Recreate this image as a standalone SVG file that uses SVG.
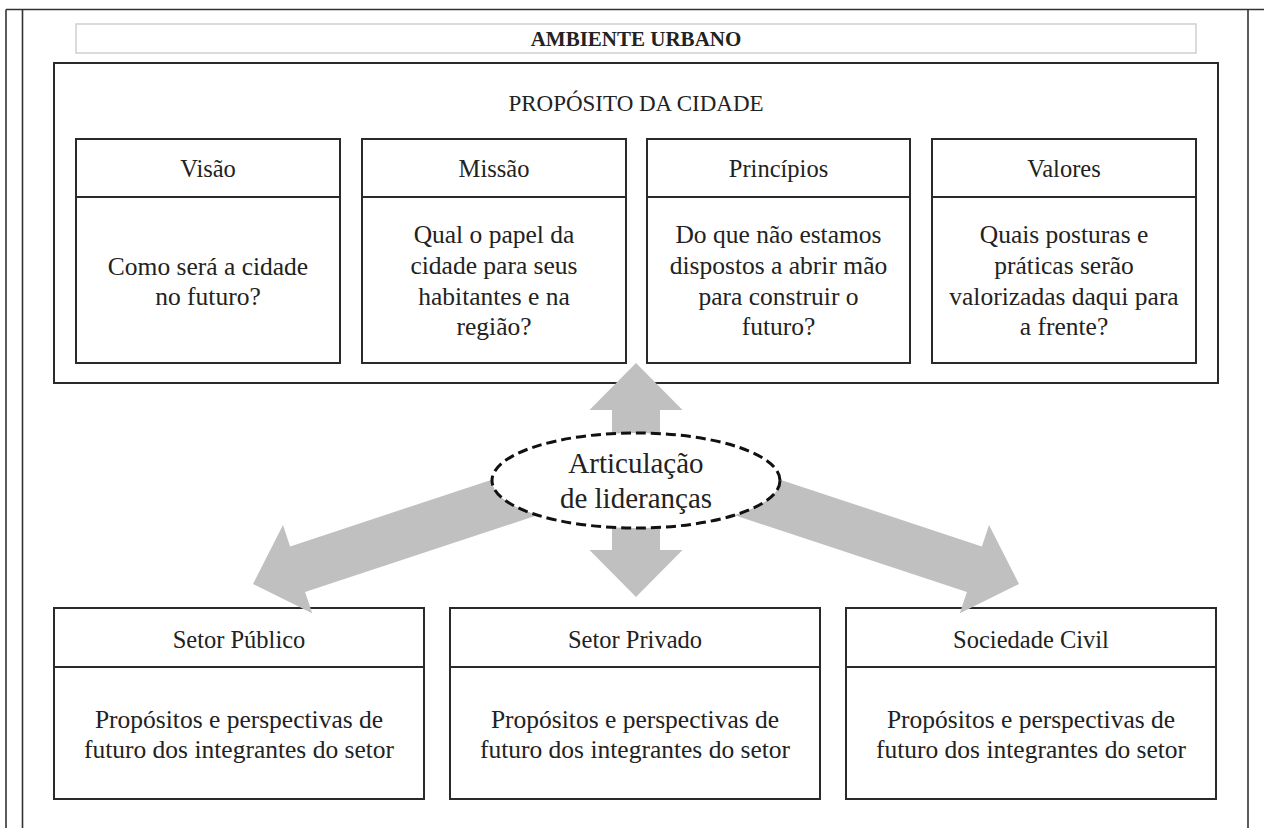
<svg xmlns="http://www.w3.org/2000/svg" width="1264" height="828" viewBox="0 0 1264 828" font-family="'Liberation Serif', 'Times New Roman', 'DejaVu Serif', serif">
<style>
.frame{fill:none;stroke:#333;stroke-width:1.6}
.box{fill:#fff;stroke:#2a2a2a;stroke-width:2}
.sep{stroke:#2a2a2a;stroke-width:2}
text{font-family:'Liberation Serif','Times New Roman','DejaVu Serif',serif;fill:#222;text-anchor:middle}
.h{font-size:24.5px}
.b{font-size:25.5px}
.arrow{fill:#c0c0c0;stroke:none}
</style>
<rect width="1264" height="828" fill="#fff"/>
<g id="frame">
<line class="frame" x1="6" y1="9.5" x2="1264" y2="9.5"/>
<line class="frame" x1="6" y1="9.5" x2="6" y2="828"/>
<line class="frame" x1="22.5" y1="9.5" x2="22.5" y2="828"/>
<line class="frame" x1="1248" y1="9.5" x2="1248" y2="828"/>
</g>
<g id="title">
<rect x="76" y="24" width="1120" height="29" fill="#fff" stroke="#cfcfcf" stroke-width="1.5"/>
<text x="636" y="45.5" font-size="21" font-weight="bold">AMBIENTE URBANO</text>
</g>
<g id="proposito">
<rect class="box" x="54" y="63" width="1164" height="320"/>
<text x="636" y="111" font-size="23">PROPÓSITO DA CIDADE</text>
</g>
<g id="visao">
<rect class="box" x="76" y="139" width="264" height="224"/>
<line class="sep" x1="76" y1="197" x2="340" y2="197"/>
<text class="h" x="208" y="177">Visão</text>
<text class="b" x="208" y="275">Como será a cidade</text>
<text class="b" x="208" y="305">no futuro?</text>
</g>
<g id="missao">
<rect class="box" x="362" y="139" width="264" height="224"/>
<line class="sep" x1="362" y1="197" x2="626" y2="197"/>
<text class="h" x="494" y="177">Missão</text>
<text class="b" x="494" y="243">Qual o papel da</text>
<text class="b" x="494" y="273.5">cidade para seus</text>
<text class="b" x="494" y="304.5">habitantes e na</text>
<text class="b" x="494" y="335">região?</text>
</g>
<g id="principios">
<rect class="box" x="647" y="139" width="263" height="224"/>
<line class="sep" x1="647" y1="197" x2="910" y2="197"/>
<text class="h" x="778.5" y="177">Princípios</text>
<text class="b" x="778.5" y="243">Do que não estamos</text>
<text class="b" x="778.5" y="273.5">dispostos a abrir mão</text>
<text class="b" x="778.5" y="304.5">para construir o</text>
<text class="b" x="778.5" y="335">futuro?</text>
</g>
<g id="valores">
<rect class="box" x="932" y="139" width="264" height="224"/>
<line class="sep" x1="932" y1="197" x2="1196" y2="197"/>
<text class="h" x="1064" y="177">Valores</text>
<text class="b" x="1064" y="243">Quais posturas e</text>
<text class="b" x="1064" y="273.5">práticas serão</text>
<text class="b" x="1064" y="304.5">valorizadas daqui para</text>
<text class="b" x="1064" y="335">a frente?</text>
</g>
<g id="setor-publico">
<rect class="box" x="54" y="608" width="370" height="191"/>
<line class="sep" x1="54" y1="667" x2="424" y2="667"/>
<text class="h" x="239" y="648">Setor Público</text>
<text class="b" x="239" y="728">Propósitos e perspectivas de</text>
<text class="b" x="239" y="758">futuro dos integrantes do setor</text>
</g>
<g id="setor-privado">
<rect class="box" x="450" y="608" width="370" height="191"/>
<line class="sep" x1="450" y1="667" x2="820" y2="667"/>
<text class="h" x="635" y="648">Setor Privado</text>
<text class="b" x="635" y="728">Propósitos e perspectivas de</text>
<text class="b" x="635" y="758">futuro dos integrantes do setor</text>
</g>
<g id="sociedade-civil">
<rect class="box" x="846" y="608" width="370" height="191"/>
<line class="sep" x1="846" y1="667" x2="1216" y2="667"/>
<text class="h" x="1031" y="648">Sociedade Civil</text>
<text class="b" x="1031" y="728">Propósitos e perspectivas de</text>
<text class="b" x="1031" y="758">futuro dos integrantes do setor</text>
</g>
<g id="connectors">
<polygon class="arrow" points="636,363 682.5,410 660,410 660,550 682.5,550 636,597 589.5,550 612,550 612,410 589.5,410"/>
<polygon class="arrow" points="606.1,441.9 290.1,546.4 283,525.1 253,584 312.2,613.3 305.1,592 621.1,487.5"/>
<polygon class="arrow" points="665.9,441.9 981.9,546.4 989,525.1 1019,584 959.8,613.3 966.9,592 650.9,487.5"/>
</g>
<g id="articulacao">
<ellipse cx="636" cy="480.5" rx="144" ry="47.5" fill="#fff" stroke="#111" stroke-width="3" stroke-dasharray="10 5"/>
<text x="636" y="473" font-size="29">Articulação</text>
<text x="636" y="508" font-size="29">de lideranças</text>
</g>
</svg>
